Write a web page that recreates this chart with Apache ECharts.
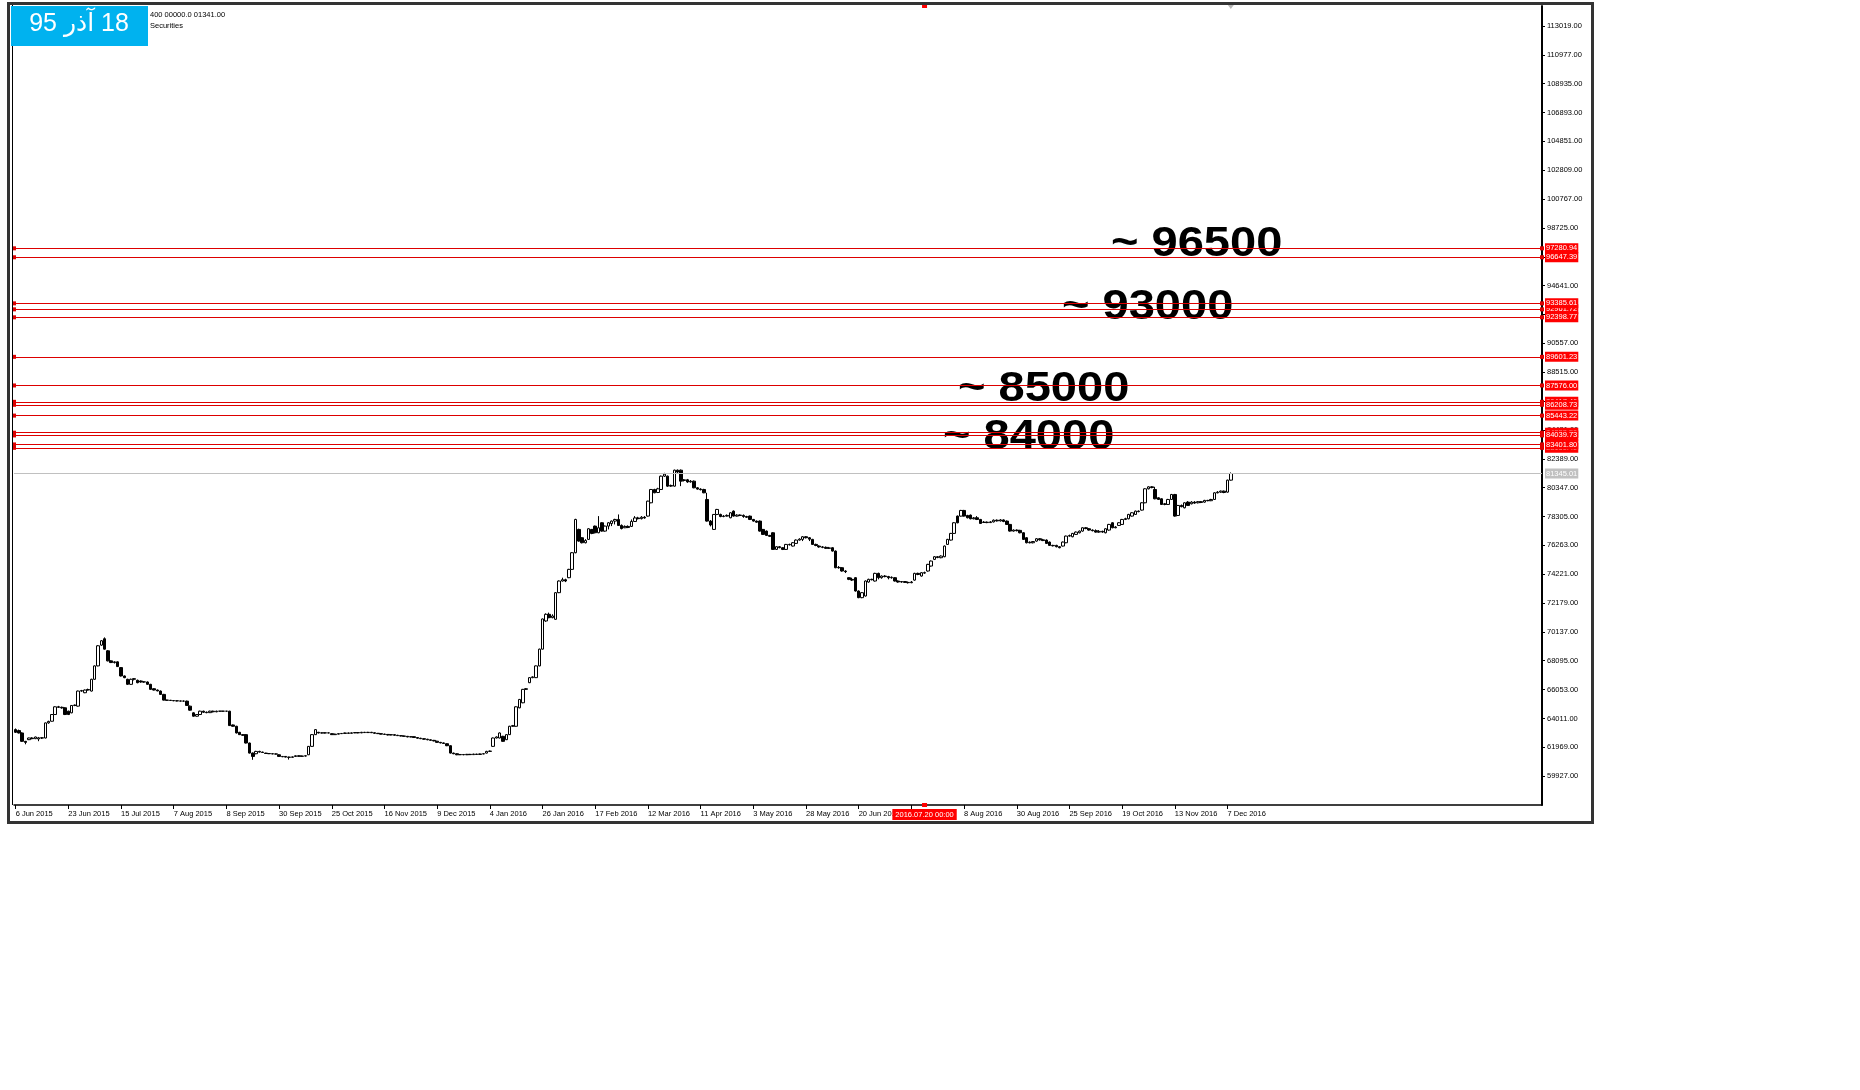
<!DOCTYPE html>
<html><head><meta charset="utf-8">
<script src="https://cdn.jsdelivr.net/npm/echarts@6/dist/echarts.min.js"></script>
<style>html,body{margin:0;padding:0;background:#fff}#c{width:1860px;height:1090px}</style>
</head><body><div id="c"></div>
<script>
// ---------- data ----------
const tickLabels = ["6 Jun 2015","23 Jun 2015","15 Jul 2015","7 Aug 2015","8 Sep 2015","30 Sep 2015","25 Oct 2015","16 Nov 2015","9 Dec 2015","4 Jan 2016","26 Jan 2016","17 Feb 2016","12 Mar 2016","11 Apr 2016","3 May 2016","28 May 2016","20 Jun 2016","14 Jul 2016","8 Aug 2016","30 Aug 2016","25 Sep 2016","19 Oct 2016","13 Nov 2016","7 Dec 2016"];
const labelEvery = 16;
const slotCount = 464;

const opens = [
63220,63150,62983,62390,62508,62627,62580,62560,62640,62627,
63695,63813,64288,64834,64800,64763,64525,64407,64929,64881,
65949,65830,66020,65949,66780,67729,69200,69650,68797,68085,
67966,68014,67610,67017,66780,66424,66780,66708,66661,66590,
66590,66424,66115,66020,65949,65712,65308,65300,65280,65260,
65250,65237,65237,64881,64407,64169,64288,64525,64450,64420,
64525,64480,64525,64525,64525,64525,63550,63457,63030,62864,
62864,62271,61559,61512,61678,61630,61559,61530,61512,61500,
61440,61322,61322,61274,61260,61320,61369,61330,61350,61440,
62034,62864,63030,62983,62990,62983,62935,62864,62900,62935,
62950,62983,62960,62990,63010,62990,63030,63010,63030,63000,
62960,62935,62900,62880,62840,62864,62820,62793,62770,62746,
62700,62720,62660,62610,62579,62540,62500,62461,62400,62318,
62280,62223,62081,61559,61512,61440,61460,61440,61470,61450,
61488,61460,61500,61559,61678,62034,62627,62627,62746,62508,
62864,63457,63457,64763,65118,66068,66542,66898,66898,67729,
68915,70909,71380,71144,71026,72911,73736,73830,73971,74560,
75738,77388,76799,76445,76681,77388,77623,77152,77859,77270,
77623,77800,77977,78094,77670,77505,77600,77600,77950,78200,
78150,78250,78330,79272,80215,80000,80215,81157,81157,80450,
80450,81581,81581,80850,80900,80750,80804,80333,80240,80215,
79508,77977,77388,78448,78448,78300,78330,78212,78683,78330,
78400,78380,78300,78330,78094,77977,77977,77388,77270,76964,
77152,75974,76163,76092,75974,76327,76210,76398,76634,76681,
76869,76799,76681,76327,76210,76150,76120,76050,76092,75856,
74678,74678,74443,73971,73854,73971,73029,72558,72676,73665,
73854,73736,74278,73971,74089,74050,73970,73971,73736,73665,
73700,73640,73618,73800,74278,74089,74325,74443,74796,75267,
75456,75385,75456,76327,76634,77105,78330,78330,78731,78377,
78400,78142,78212,78094,77880,77900,77870,77920,78040,77990,
78060,77977,77741,77270,77341,77320,77152,76799,76445,76445,
76563,76728,76650,76634,76492,76257,76257,76163,76210,76445,
76916,76869,77034,77152,77270,77505,77435,77341,77300,77199,
77250,77152,77341,77859,77505,77670,77741,78094,78142,78330,
78448,78683,78754,79272,80262,80403,80215,79626,79555,79155,
79155,79508,79861,78377,79084,78919,79320,79202,79320,79272,
79350,79320,79440,79420,79508,79979,80026,80097,80026,80875
];
const highs = [
63300,63220,63030,62420,62650,62680,62720,62700,62680,63720,
63850,64320,64870,64900,64850,64800,64560,64960,65000,65980,
66030,66060,66120,66820,67760,69200,69560,69746,68850,68120,
68060,68050,67650,67050,66820,66830,66870,66760,66700,66640,
66630,66460,66150,66060,65990,65750,65330,65320,65300,65290,
65270,65280,65270,64920,64450,64310,64560,64560,64500,64560,
64560,64560,64540,64540,64540,64550,63580,63490,63060,62900,
62900,62300,61600,61720,61720,61660,61580,61560,61540,61530,
61470,61350,61350,61300,61320,61400,61400,61380,61400,62060,
62900,63250,63060,63020,63020,63020,62960,62930,62960,62980,
63010,63010,63020,63040,63040,63060,63060,63060,63060,63020,
62980,62960,62930,62900,62890,62890,62850,62820,62800,62770,
62750,62740,62690,62640,62610,62570,62530,62490,62430,62350,
62310,62250,62110,61590,61540,61490,61490,61500,61500,61510,
61510,61530,61540,61720,61740,62660,62740,63020,62780,62900,
63490,63550,64870,65390,66100,66160,66930,66990,67760,68950,
71080,71450,71500,71380,72950,73780,73971,73900,74600,75780,
78140,77440,76840,76700,77480,77420,77660,78330,77900,77660,
77900,78020,78140,78448,77741,77670,77670,78094,78330,78280,
78330,78330,79420,80250,80262,80333,81200,81393,81200,80560,
81620,81628,81628,80950,80960,80880,80850,80380,80300,80262,
79979,78050,78480,78840,78500,78400,78448,78600,78731,78460,
78448,78448,78350,78370,78130,78020,78020,77420,77310,77000,
77190,76200,76210,76130,76360,76380,76492,76680,76760,76920,
76920,76850,76720,76380,76260,76210,76180,76150,76130,75900,
74796,74720,74500,74000,73971,74010,73070,72950,73780,73900,
73900,74320,74325,74130,74150,74100,74060,74010,73780,73736,
73736,73700,73736,74320,74325,74370,74400,74950,75190,75500,
75500,75550,76250,76720,77140,77900,78370,78770,78770,78420,
78440,78260,78330,78130,77977,77950,77977,78094,78094,78120,
78100,78020,77780,77388,77388,77360,77190,76840,76540,76563,
76770,76780,76720,76680,76530,76300,76300,76210,76530,76950,
77020,77140,77240,77310,77540,77560,77480,77388,77388,77341,
77300,77470,77780,77900,77620,77900,78130,78212,78490,78610,
78720,78731,79310,80300,80440,80450,80403,79660,79590,79260,
79550,79900,79900,79120,79150,79310,79390,79390,79390,79400,
79400,79480,79480,79550,80020,80097,80140,80140,80910,81420
];
const lows = [
62980,62950,62350,62180,62480,62540,62550,62400,62560,62600,
63640,63790,64260,64760,64700,64250,64250,64380,64880,64850,
65900,65800,65980,65920,66750,67700,69150,68880,68050,67930,
67900,67650,66980,66860,66380,66400,66700,66500,66540,66540,
66400,66040,65990,65930,65680,65280,65270,65250,65230,65220,
65210,65200,64900,64560,64140,64140,64260,64400,64380,64400,
64440,64450,64510,64510,64510,63480,63430,62950,62840,62780,
62240,61530,61084,61480,61600,61570,61500,61490,61480,61460,
61300,61270,61250,61100,61230,61290,61300,61300,61320,61420,
62010,62840,62950,62950,62950,62960,62840,62840,62880,62910,
62930,62930,62940,62970,62960,62970,62990,62990,62980,62930,
62910,62880,62850,62810,62820,62790,62770,62740,62720,62680,
62680,62640,62590,62550,62510,62470,62440,62390,62290,62250,
62210,62050,61530,61480,61410,61420,61410,61420,61420,61430,
61440,61440,61480,61530,61640,62000,62600,62600,62360,62480,
62840,63420,63430,64730,65090,66030,66510,66860,66870,67700,
68890,70850,71100,71100,71000,72880,73700,73660,73940,74530,
75700,76520,76400,76400,76650,77050,77110,77120,77230,77230,
77388,77623,77741,77630,77388,77480,77480,77560,77920,78094,
78094,78150,78300,79240,79950,79960,80180,81100,80400,80400,
80420,81350,80450,80780,80686,80700,80300,80200,80150,79950,
77940,77600,77350,78400,78250,78250,78300,78180,78300,78300,
78330,78212,78200,78050,77940,77860,77230,77000,76920,76850,
75940,75940,76050,75927,75940,76250,76180,76360,76600,76563,
76750,76563,76290,76200,76092,76060,76000,76000,75820,74640,
74608,74400,74300,73800,73736,72990,72520,72520,72640,73620,
73780,73700,73854,73901,74000,73854,73900,73700,73620,73618,
73600,73560,73580,73760,74150,74050,74250,74400,74760,75220,
75350,75350,75420,76290,76600,77070,77820,78300,78300,78170,
78100,78100,78050,77780,77840,77830,77840,77880,77950,77950,
77900,77700,77230,77230,77250,77110,76640,76400,76400,76400,
76520,76600,76560,76360,76220,76180,76120,76050,76180,76410,
76880,76830,77000,77110,77230,77400,77300,77250,77160,77152,
77150,77110,77300,77470,77470,77630,77700,78050,78100,78300,
78410,78600,78720,79240,80220,80300,79520,79470,79120,79100,
79120,79470,78290,78340,78950,78880,79050,79160,79200,79230,
79250,79280,79380,79390,79470,79940,79980,79950,79990,80840
];
const closes = [
63030,62983,62390,62318,62627,62580,62698,62640,62620,63695,
63800,64288,64834,64800,64760,64288,64288,64929,64950,65949,
65980,66020,66060,66780,67729,69153,69509,68915,68085,67966,
68014,67681,67017,66898,66424,66780,66827,66542,66590,66600,
66424,66068,66020,65960,65712,65308,65300,65280,65260,65250,
65237,65237,64929,64596,64169,64288,64525,64450,64420,64525,
64480,64525,64525,64525,64525,63505,63457,62983,62864,62820,
62271,61559,61322,61678,61630,61600,61530,61512,61500,61488,
61322,61300,61274,61260,61290,61369,61330,61350,61369,62034,
62864,63220,62983,62990,62983,62990,62864,62900,62935,62950,
62983,62960,62990,63010,62990,63030,63010,63030,63000,62960,
62935,62900,62880,62840,62864,62820,62793,62770,62746,62700,
62720,62660,62610,62579,62540,62500,62461,62420,62318,62280,
62240,62081,61559,61512,61440,61460,61440,61470,61450,61488,
61460,61500,61512,61678,61700,62627,62700,62983,62390,62864,
63457,63500,64834,65355,66068,66115,66898,66950,67729,68915,
71051,71380,71144,71262,72911,73736,73830,73736,74560,75738,
78094,76563,76445,76600,77435,77105,77152,77505,77270,77623,
77859,77977,78094,77670,77450,77600,77530,77950,78200,78150,
78250,78200,79390,80215,79979,80260,81157,81300,80450,80500,
81581,81450,80804,80900,80750,80800,80333,80240,80200,79979,
77977,77700,78448,78801,78300,78330,78380,78566,78330,78400,
78380,78300,78250,78094,77977,77900,77270,77034,76964,76900,
75974,76163,76100,75974,76327,76300,76445,76634,76700,76869,
76800,76700,76327,76250,76150,76120,76050,76080,75856,74678,
74700,74443,74400,73854,73800,73029,72558,72911,73736,73854,
73830,74278,73971,74089,74050,73970,74000,73736,73665,73700,
73640,73618,73665,74278,74200,74325,74300,74914,75149,75456,
75400,75503,76210,76681,77105,77859,77859,78731,78330,78212,
78142,78200,78094,77812,77900,77870,77920,78040,77990,78060,
77950,77741,77270,77341,77300,77152,76681,76445,76480,76530,
76728,76650,76600,76398,76257,76230,76163,76092,76492,76916,
76950,77105,77199,77270,77505,77450,77341,77300,77199,77250,
77200,77435,77741,77505,77560,77859,78094,78150,78448,78566,
78683,78650,79272,80262,80403,80350,79555,79508,79155,79200,
79508,79861,78330,79084,79000,79272,79084,79320,79250,79350,
79300,79440,79420,79508,79979,80026,80097,80000,80875,81345
];

// horizontal price levels (drawn in this order; later ones on top)
const levelValues = [97280.94, 96647.39, 92961.72, 93385.61, 92398.77, 89601.23, 87576.00, 86417.46, 86208.73, 85443.22, 84233.50, 84039.73, 83160.40, 83401.80];
const bidValue = 81345.01;
const cursorIndex = 369 - 93;
const cursorLabel = "2016.07.20 00:00";
const yMin = 57885, yMax = 114430, yStep = 2042;
const notes = [
  {text: "~ 96500", x: 1111, y: 244},
  {text: "~ 93000", x: 1062, y: 307},
  {text: "~ 85000", x: 958, y: 389},
  {text: "~ 84000", x: 943, y: 437}
];
const dateBadge = "\u202B18 آذر 95\u202C";
const headerLines = ["400 00000.0 01341.00", "Securities"];

// ---------- chart ----------
const FONT = '"Liberation Sans", Arial, sans-serif';
const categories = Array.from({length: slotCount}, (_, i) => String(i));
const candles = opens.map((o, i) => [o, closes[i], lows[i], highs[i]]);
const showTick = (i) => i % labelEvery === 0 && i / labelEvery < tickLabels.length;

const chart = echarts.init(document.getElementById('c'), null, {renderer: 'canvas'});

const graphics = [
  {type: 'rect', shape: {x: 8.5, y: 3.5, width: 1584, height: 819}, style: {fill: null, stroke: '#333333', lineWidth: 3}, z: 50, silent: true},
  {type: 'line', shape: {x1: 12.5, y1: 5, x2: 12.5, y2: 805}, style: {stroke: '#000', lineWidth: 1}, z: 50, silent: true},
  {type: 'text', x: 150, y: 15, style: {text: headerLines[0], font: '7.5px ' + FONT, fill: '#000', verticalAlign: 'middle'}, z: 50},
  {type: 'text', x: 150, y: 26, style: {text: headerLines[1], font: '7.5px ' + FONT, fill: '#000', verticalAlign: 'middle'}, z: 50},
  {type: 'rect', shape: {x: 11, y: 6, width: 137, height: 40}, style: {fill: '#00b2ef'}, z: 60, silent: true},
  {type: 'text', x: 79, y: 24, style: {text: dateBadge, font: '25px "Liberation Sans", "DejaVu Sans", sans-serif', fill: '#ffffff', align: 'center', verticalAlign: 'middle'}, z: 61}
];
notes.forEach(n => graphics.push({
  type: 'text', x: n.x, y: n.y, scaleX: 1.12,
  style: {text: n.text, font: 'bold 42px ' + FONT, fill: '#000', align: 'left', verticalAlign: 'middle'}, z: 1
}));

const option = {
  backgroundColor: '#ffffff',
  animation: false,
  grid: {left: 14, right: 318, top: 6, bottom: 285, containLabel: false},
  xAxis: {
    type: 'category', data: categories, boundaryGap: true,
    axisLine: {show: true, lineStyle: {color: '#000', width: 1.5}},
    axisTick: {show: true, alignWithLabel: true, interval: showTick, length: 4, lineStyle: {color: '#000', width: 1}},
    axisLabel: {
      interval: showTick, align: 'left', margin: 5, fontSize: 7.5, color: '#000', fontFamily: FONT,
      formatter: (v, idx) => { const k = idx / labelEvery; return Number.isInteger(k) && k < tickLabels.length ? tickLabels[k] : ''; }
    },
    splitLine: {show: false}
  },
  yAxis: {
    type: 'value', position: 'right', min: yMin, max: yMax, interval: yStep, scale: true,
    axisLine: {show: true, onZero: false, lineStyle: {color: '#000', width: 2}},
    axisTick: {show: true, length: 3, lineStyle: {color: '#000', width: 1}},
    axisLabel: {margin: 5, fontSize: 7.5, color: '#000', fontFamily: FONT, showMinLabel: false, showMaxLabel: false,
      formatter: v => v.toFixed(2)},
    splitLine: {show: false}
  },
  series: [
    {
      type: 'candlestick', data: candles, barWidth: 3,
      itemStyle: {color: '#ffffff', color0: '#000000', borderColor: '#000000', borderColor0: '#000000', borderWidth: 1},
      markLine: {
        silent: true, animation: false,
        symbol: ['rect', 'rect'], symbolSize: 4,
        lineStyle: {color: '#dd0000', width: 1, type: 'solid'},
        label: {show: true, position: 'end', distance: 3, formatter: p => Number(p.value).toFixed(2),
          color: '#ffffff', backgroundColor: '#ff0000', fontSize: 7.5, fontFamily: FONT, padding: [1, 1, 0, 1], lineHeight: 9},
        data: levelValues.map(v => ({yAxis: v}))
      }
    },
    {
      type: 'line', data: [], silent: true,
      markLine: {
        silent: true, animation: false, symbol: ['none', 'none'],
        lineStyle: {color: '#c0c0c0', width: 1, type: 'solid'},
        label: {show: true, position: 'end', distance: 3, formatter: p => Number(p.value).toFixed(2),
          color: '#ffffff', backgroundColor: '#c0c0c0', fontSize: 7.5, fontFamily: FONT, padding: [1, 1, 0, 1], lineHeight: 9},
        data: [{yAxis: bidValue}]
      }
    },
    {
      type: 'line', data: [], silent: true,
      markLine: {
        silent: true, animation: false, symbol: ['rect', 'rect'], symbolSize: [5, 4],
        lineStyle: {color: '#ff0000', width: 0},
        label: {show: true, position: 'start', distance: 4, formatter: () => cursorLabel,
          color: '#ffffff', backgroundColor: '#ff0000', fontSize: 7.5, fontFamily: FONT, padding: [2, 3, 1, 3]},
        data: [{xAxis: categories[cursorIndex]}]
      }
    }
  ],
  graphic: graphics
};
chart.setOption(option);

// chart-shift marker above the last bar
const px = chart.convertToPixel({xAxisIndex: 0}, categories[opens.length - 1]);
chart.setOption({graphic: graphics.concat([{type: 'polygon', shape: {points: [[px - 3, 5], [px + 3, 5], [px, 9]]}, style: {fill: '#b8b8b8'}, z: 50, silent: true}])});
</script>
</body></html>
